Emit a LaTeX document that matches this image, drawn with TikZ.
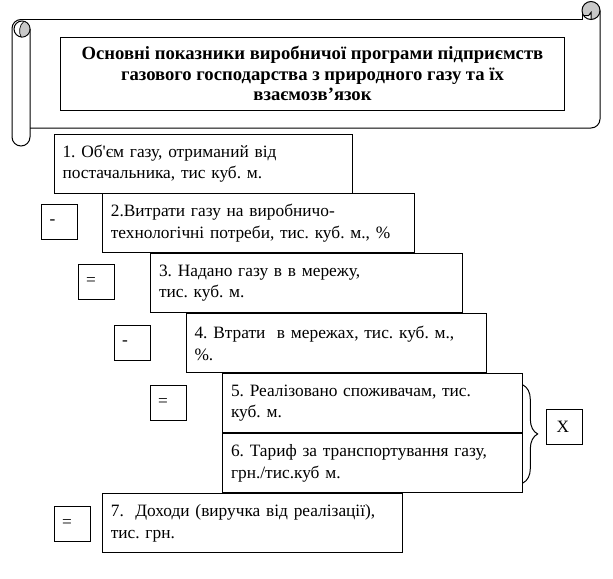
\documentclass[tikz,border=0pt]{standalone}
\usepackage{fontspec}
\setmainfont{Liberation Serif}
\frenchspacing
\usetikzlibrary{decorations.pathreplacing}
\definecolor{curlgray}{RGB}{200,200,200}

\begin{document}
\begin{tikzpicture}[x=.75pt,y=-.75pt,
 box/.style={draw,line width=.75pt,anchor=north west,align=left,inner xsep=6.4pt,inner ysep=0pt,minimum height=44.6pt,font=\fontsize{13}{16.3}\selectfont},
 sign/.style={box,minimum height=26.25pt,inner xsep=6pt,text width=15pt},
 head/.style={draw,line width=.75pt,anchor=north west,align=center,minimum width=378pt,minimum height=54.4pt,font=\fontsize{14}{15.4}\selectfont\bfseries},
 brc/.style={decorate,decoration={brace,amplitude=11pt},line width=.75pt}]
\useasboundingbox (0,0) rectangle (613,578);
% scroll
\fill[curlgray] (591,10.5) circle[radius=6.75pt];
\fill[white] (583.5,15.7) -- (588.5,15.7) -- (591,12.5) -- (591,19.5) -- (583.5,19.5) -- cycle;
\draw[line width=.75pt] (591,10.5) circle[radius=6.75pt];
\draw[line width=.75pt] (583.5,15.7) -- (588.5,15.7) -- (591,12.5) -- (591,19.5);
\draw[line width=.75pt] (21,19.5) -- (582,19.5) -- (582,12);
\draw[line width=.75pt] (600,10.5) -- (600,119) arc[start angle=0,end angle=-90,radius=6.75pt] -- (30,128);
\draw[line width=.75pt] (12,137) -- (12,28.5) arc[start angle=180,end angle=90,radius=6.75pt];
\draw[line width=.75pt] (30,29) -- (30,137) arc[start angle=0,end angle=-180,radius=6.75pt];
\draw[line width=.75pt] (22,29) circle[radius=6pt];
\draw[line width=.5pt,fill=curlgray] (24,21.3) arc[start angle=75,end angle=-95,radius=6pt] .. controls (18.5,33) and (19,25) .. (24,21.3);
% title
\node[head] (title) at (60,37) {Основні показники виробничої програми підприємств\\газового господарства з природного газу та їх\\взаємозв’язок};
% indicators
\node[box,text width=211.1pt] (b1) at (53.5,133.5) {1. Об\textquotesingle єм газу, отриманий від\\постачальника, тис куб. м.};
\node[box,text width=221.2pt] (b2) at (101.8,193) {2.Витрати газу на виробничо-\\технологічні потреби, тис. куб. м., \%};
\node[box,text width=221.2pt] (b3) at (150,253) {3. Надано газу в в мережу,\\тис. куб. м.};
\node[box,text width=212.6pt] (b4) at (185.5,313) {4. Втрати\ \ в мережах, тис. куб. м.,\\\%.};
\node[box,text width=212.2pt] (b5) at (222,373) {5. Реалізовано споживачам, тис.\\куб. м.};
\node[box,text width=212.2pt] (b6) at (222,433) {6. Тариф за транспортування газу,\\грн./тис.куб м.};
\node[box,text width=212.2pt] (b7) at (101.8,493) {7.\ \ Доходи (виручка від реалізації),\\тис. грн.};
% signs
\node[sign] (m1) at (41,204) {-};
\node[sign] (e1) at (77.5,264) {=};
\node[sign] (m2) at (113.5,325) {-};
\node[sign] (e2) at (149.5,385) {=};
\node[sign] (e3) at (53.6,505.5) {=};
\node[sign,inner xsep=7.5pt,text width=12pt] (mul) at (546,409) {X};
% brace
\coordinate (bt) at ([yshift=-9pt]b5.north east);
\coordinate (bb) at ([yshift=7.9pt]b6.south east);
\draw[brc] (bt) -- (bb);
\end{tikzpicture}
\end{document}
